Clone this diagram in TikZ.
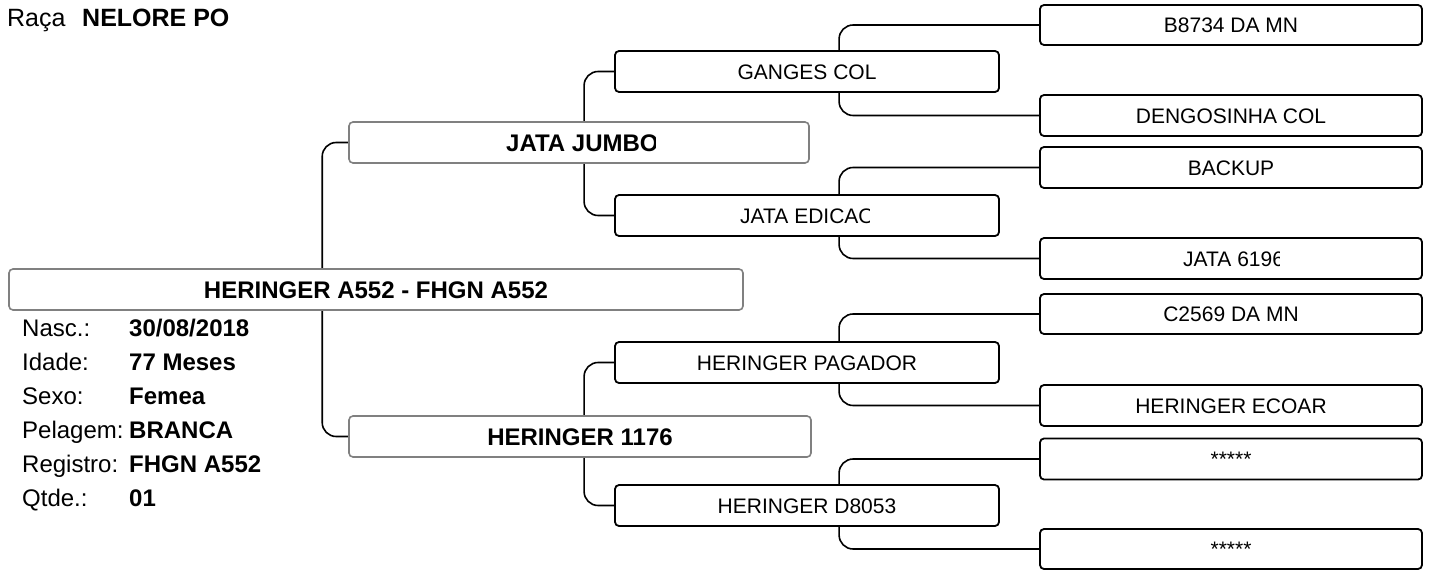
\documentclass[tikz,border=0pt]{standalone}
\usepackage{fontspec}
\setmainfont{Liberation Sans}
\usetikzlibrary{backgrounds}
\definecolor{boxgray}{RGB}{128,128,128}
\begin{document}
\begin{tikzpicture}[x=1pt,y=-1pt,
  basebox/.style={rounded corners=4pt, fill=white, inner sep=0pt, text depth=0pt},
  mainbox/.style={basebox, draw=boxgray, line width=1.6pt, minimum width=734pt, minimum height=41pt,
     font=\bfseries\fontsize{24}{28}\selectfont, text height=17pt},
  gonebox/.style={basebox, draw=boxgray, line width=1.6pt, minimum width=460pt, minimum height=41pt,
     font=\bfseries\fontsize{24}{28}\selectfont, text height=17pt},
  gtwobox/.style={basebox, draw=black, line width=1.8pt, minimum width=384pt, minimum height=41pt,
     font=\fontsize{21}{25}\selectfont, text height=15pt},
  gthreebox/.style={basebox, draw=black, line width=1.8pt, minimum width=382pt, minimum height=40pt,
     font=\fontsize{21}{25}\selectfont, text height=15pt},
  cliptext/.style={anchor=west, inner sep=0pt, text depth=0pt},
  conn/.style={draw=black, line width=1.6pt, rounded corners=14pt},
  lab/.style={anchor=west, inner sep=0pt, text height=17pt, text depth=0pt, font=\fontsize{24}{28}\selectfont},
  val/.style={lab, font=\bfseries\fontsize{24}{28}\selectfont}
]
\useasboundingbox (0,0) rectangle (1432,570);

% title
\node[lab, font=\fontsize{25}{30}\selectfont, text height=18pt] (traca) at (7,18) {Raça};
\node[val, font=\bfseries\fontsize{25}{30}\selectfont, text height=18pt] (tnelore) at (82,18) {NELORE PO};

% subject
\node[mainbox] (main) at (376,289.5) {HERINGER A552 - FHGN A552};

% generation 1
\node[gonebox] (jumbo) at (579,142.5) {};
\node[gonebox, minimum width=462pt] (h1176) at (580,436.5) {HERINGER 1176};

% generation 2
\node[gtwobox] (ganges) at (807,71.5) {GANGES COL};
\node[gtwobox] (edicao) at (807,215.5) {};
\node[gtwobox] (pagador) at (807,362.5) {HERINGER PAGADOR};
\node[gtwobox] (d8053) at (807,505.5) {HERINGER D8053};

% generation 3
\node[gthreebox] (b8734) at (1231,25) {B8734 DA MN};
\node[gthreebox, minimum height=41pt] (dengosinha) at (1231,115.5) {DENGOSINHA COL};
\node[gthreebox, minimum height=41pt] (backup) at (1231,167.5) {BACKUP};
\node[gthreebox, minimum height=41pt] (j6196) at (1231,258.5) {};
\node[gthreebox] (c2569) at (1231,314) {C2569 DA MN};
\node[gthreebox, minimum height=41pt] (ecoar) at (1231,405.5) {HERINGER ECOAR};
\node[gthreebox, minimum height=41pt] (stara) at (1231,459) {*****};
\node[gthreebox] (starb) at (1231,549) {*****};

% clipped texts
\begin{scope}
  \clip (349,122) rectangle (655,163);
  \node[cliptext, font=\bfseries\fontsize{24}{28}\selectfont, text height=17pt] (tjumbo) at (506,142.5) {JATA JUMBO};
\end{scope}
\begin{scope}
  \clip (615,195) rectangle (869,236);
  \node[cliptext, font=\fontsize{21}{25}\selectfont, text height=15pt] (tedicao) at (740,215.5) {JATA EDICAO};
\end{scope}
\begin{scope}
  \clip (1040,238) rectangle (1279,279);
  \node[cliptext, font=\fontsize{21}{25}\selectfont, text height=15pt] (tj6196) at (1183,258.5) {JATA 6196};
\end{scope}

% details
\node[lab] (lnasc) at (22,328) {Nasc.:};
\node[val] (vnasc) at (129,328) {30/08/2018};
\node[lab] (lidade) at (22,362) {Idade:};
\node[val] (vidade) at (129,362) {77 Meses};
\node[lab] (lsexo) at (22,396) {Sexo:};
\node[val] (vsexo) at (129,396) {Femea};
\node[lab] (lpel) at (22,430) {Pelagem:};
\node[val] (vpel) at (129,430) {BRANCA};
\node[lab] (lreg) at (22,464) {Registro:};
\node[val] (vreg) at (129,464) {FHGN A552};
\node[lab] (lqtde) at (22,498) {Qtde.:};
\node[val] (vqtde) at (129,498) {01};

% connectors
\begin{pgfonlayer}{background}
  \draw[conn] (jumbo.west) -- ++(-26,0) |- (h1176.west);
  \draw[conn] (ganges.west) -- ++(-30,0) |- (edicao.west);
  \draw[conn] (pagador.west) -- ++(-30,0) |- (d8053.west);
  \draw[conn] (b8734.west) -- ++(-200,0) |- (dengosinha.west);
  \draw[conn] (backup.west) -- ++(-200,0) |- (j6196.west);
  \draw[conn] (c2569.west) -- ++(-200,0) |- (ecoar.west);
  \draw[conn] (stara.west) -- ++(-200,0) |- (starb.west);
\end{pgfonlayer}
\end{tikzpicture}
\end{document}
